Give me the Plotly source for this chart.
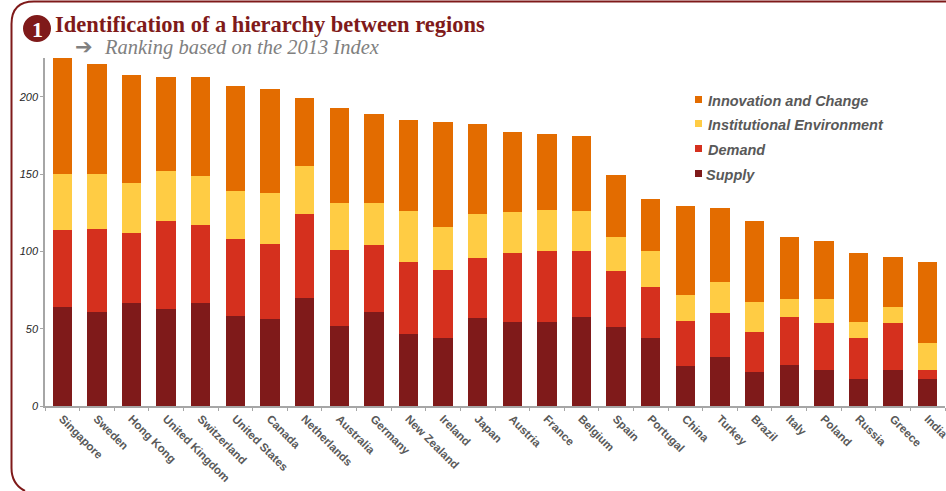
import plotly.graph_objects as go

WIDTH, HEIGHT = 946, 491
LEFT, RIGHT, TOP, BOTTOM = 45, 945, 58, 406

countries = ["Singapore", "Sweden", "Hong Kong", "United Kingdom", "Switzerland", "United States",
             "Canada", "Netherlands", "Australia", "Germany", "New Zealand", "Ireland", "Japan",
             "Austria", "France", "Belgium", "Spain", "Portugal", "China", "Turkey", "Brazil",
             "Italy", "Poland", "Russia", "Greece", "India"]
supply = [64, 60.5, 66.5, 63, 66.5, 58, 56.5, 70, 52, 60.5, 46.5, 44, 57, 54, 54, 57.5, 51, 44, 26, 32,
          22, 26.5, 23, 17.5, 23, 17.5]
demand = [49.5, 54, 45.5, 56.5, 50.5, 50, 48, 54, 49, 43.5, 46.5, 44, 39, 45, 46, 42.5, 36, 33, 29, 28,
          26, 31, 30.5, 26.5, 30.5, 6]
institutional = [36.5, 35.5, 32.5, 32.5, 32, 31, 33.5, 31, 30, 27, 33, 27.5, 28, 26.5, 27, 26, 22, 23.5,
                 16.5, 20, 19, 11.5, 15.5, 10, 10.5, 17.5]
innovation = [75, 71, 69.5, 61, 64, 68, 67, 44, 61.5, 57.5, 59, 68, 58.5, 51.5, 49, 48.5, 40.5, 33.5,
              57.5, 48, 52.5, 40, 38, 45, 32.5, 52]

series = [("Supply", supply, "#7F1A1A"),
          ("Demand", demand, "#D5301E"),
          ("Institutional Environment", institutional, "#FFCC44"),
          ("Innovation and Change", innovation, "#E36C00")]

# Key rows, top to bottom: label, left edge of the label, vertical centre of text, swatch top
key_rows = [("Innovation and Change", 706, 100.5, 96),
            ("Institutional Environment", 706, 125, 120),
            ("Demand", 706, 150, 145),
            ("Supply", 704, 174.5, 170)]

DARK_RED = "#7F1A1A"
GREY = "#595959"
AXIS_GREY = "#A6A6A6"


def px(x):
    return (x - LEFT) / (RIGHT - LEFT)


def py(y):
    return (BOTTOM - y) / (BOTTOM - TOP)


def label(text, x, y, font, xanchor="left"):
    return dict(text=text, x=px(x), y=py(y), xref="paper", yref="paper", xanchor=xanchor,
                yanchor="middle", showarrow=False, font=font)


fig = go.Figure()
for name, values, colour in series:
    fig.add_bar(x=countries, y=values, name=name, marker_color=colour, marker_line_width=0)

# Rounded frame open on the right and along the bottom
frame = (f"M {px(946)} {py(1.5)} L {px(34)} {py(1.5)} Q {px(11.5)} {py(1.5)} {px(11.5)} {py(24)} "
         f"L {px(11.5)} {py(468)} Q {px(11.5)} {py(484)} {px(25)} {py(491)}")

shapes = [
    dict(type="path", xref="paper", yref="paper", path=frame, line=dict(color=DARK_RED, width=2)),
    dict(type="circle", xref="paper", yref="paper", x0=px(23), x1=px(51), y0=py(15), y1=py(42),
         fillcolor=DARK_RED, line_width=0),
]
annotations = [
    label("1", 37, 29, dict(family="Liberation Serif", size=22, color="white", weight="bold"), "center"),
    label("Identification of a hierarchy between regions", 53, 25,
          dict(family="Liberation Serif", size=22.5, color=DARK_RED, weight="bold")),
    label("➔", 73, 47, dict(family="DejaVu Sans", size=21, color="#808080", weight="bold")),
    label("Ranking based on the 2013 Index", 102, 48,
          dict(family="Liberation Serif", size=20.5, color="#808080", style="italic")),
]

# Hand-placed colour key
colours = {name: colour for name, _, colour in series}
for name, text_x, centre_y, swatch_top in key_rows:
    shapes.append(dict(type="rect", xref="paper", yref="paper", x0=px(695), x1=px(702),
                       y0=py(swatch_top), y1=py(swatch_top + 7),
                       fillcolor=colours[name], line_width=0))
    annotations.append(label(name, text_x, centre_y,
                             dict(family="Liberation Sans", size=14.5, color=GREY, style="italic",
                                  weight="bold")))

fig.update_layout(
    width=WIDTH, height=HEIGHT, autosize=False, showlegend=False,
    margin=dict(l=LEFT, r=WIDTH - RIGHT, t=TOP, b=HEIGHT - BOTTOM, pad=0),
    paper_bgcolor="white", plot_bgcolor="white",
    barmode="stack", bargap=0.44,
    xaxis=dict(tickangle=45, tickson="boundaries", ticks="outside", ticklen=3, tickcolor=AXIS_GREY,
               linecolor=AXIS_GREY, linewidth=1.5, showgrid=False, automargin=False,
               tickfont=dict(family="Liberation Sans", size=11.5, color=GREY, weight="bold")),
    yaxis=dict(range=[0, 225], tickvals=[0, 50, 100, 150, 200], ticks="outside", ticklen=3,
               tickcolor=AXIS_GREY, linecolor=AXIS_GREY, linewidth=1.5, showgrid=False, zeroline=False,
               automargin=False,
               tickfont=dict(family="Liberation Sans", size=11, color="#262626", style="italic")),
    shapes=shapes,
    annotations=annotations,
)

fig.write_html("out.html")
